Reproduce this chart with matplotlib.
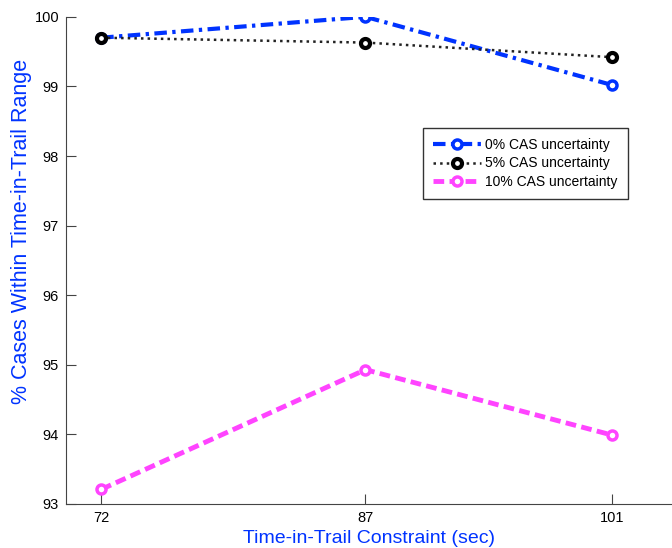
import matplotlib
matplotlib.use('Agg')
import matplotlib.pyplot as plt

plt.rcParams['font.family'] = ['Liberation Sans', 'DejaVu Sans']

# 数据
ttc = [72, 87, 101]
cas0 = [99.70, 100.0, 99.02]
cas5 = [99.70, 99.63, 99.42]
cas10 = [93.21, 94.93, 93.99]
labels = ['0% CAS uncertainty', '5% CAS uncertainty', '10% CAS uncertainty']
yticks = [93, 94, 95, 96, 97, 98, 99, 100]

fig = plt.figure(figsize=(6.72, 5.48), dpi=100)
ax = fig.add_axes([0.0982, 0.0803, 0.9018, 0.889])

ax.plot(ttc, cas0, color='#0033ff', linestyle='-.', dashes=(3, 1.3, 0.8, 1.3), linewidth=3,
        marker='o', markersize=6.5, markerfacecolor='white', markeredgewidth=2.5,
        label=labels[0])
ax.plot(ttc, cas5, color='#222222', linestyle=':', linewidth=1.8, marker='o',
        markersize=6.5, markerfacecolor='white', markeredgewidth=3, markeredgecolor='black',
        label=labels[1])
ax.plot(ttc, cas10, color='#ff44ff', linestyle='--', dashes=(2.2, 1.1), linewidth=3.5,
        marker='o', markersize=6.5, markerfacecolor='white', markeredgewidth=2.5,
        label=labels[2])

ax.set_xlim(70, 104.4)
ax.set_ylim(93, 100)
ax.set_xticks(ttc)
ax.set_yticks(yticks)
ax.tick_params(labelsize=10.5, direction='in', length=7, color='#444444', pad=5)
ax.spines['top'].set_visible(False)
ax.spines['right'].set_visible(False)
ax.spines['left'].set_color('#444444')
ax.spines['bottom'].set_color('#444444')

ax.set_xlabel('Time-in-Trail Constraint (sec)', color='#0033ff', fontsize=14, labelpad=4)
ax.set_ylabel('% Cases Within Time-in-Trail Range', color='#0033ff', fontsize=15.5)
ax.yaxis.set_label_coords(-0.056, 0.56)

leg = ax.legend(loc='upper left', bbox_to_anchor=(0.589, 0.772), borderaxespad=0,
                fontsize=10, fancybox=False, framealpha=1, edgecolor='#333333',
                handlelength=3.4, borderpad=0.75, labelspacing=0.3, handletextpad=0.3)
leg.get_frame().set_linewidth(1)

plt.savefig('out.png', dpi=100)
